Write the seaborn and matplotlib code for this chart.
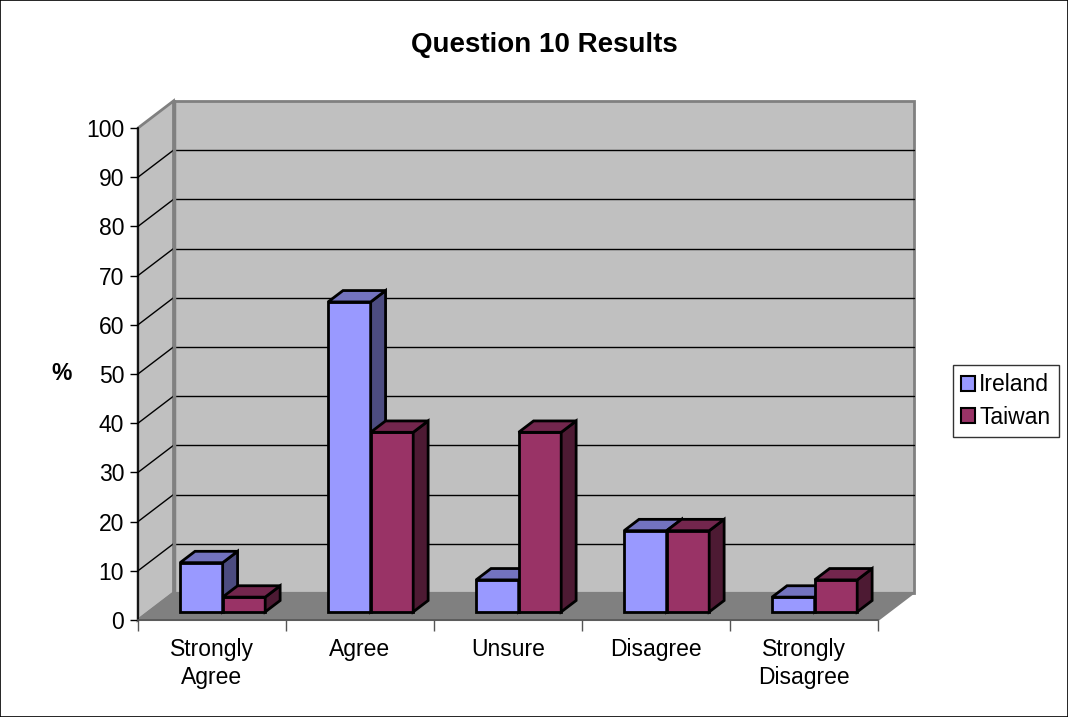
import matplotlib
matplotlib.use("Agg")
import matplotlib.pyplot as plt
from matplotlib.patches import Polygon, Patch, Rectangle
import pandas as pd
import seaborn as sns

# data
answers = ["Strongly\nAgree", "Agree", "Unsure", "Disagree", "Strongly\nDisagree"]
ireland = [10, 63, 6.5, 16.5, 3]
taiwan = [3, 36.5, 36.5, 16.5, 6.5]
yticks = list(range(0, 101, 10))

COLORS = {"Ireland": "#9999FF", "Taiwan": "#993366"}
SIDE = {"Ireland": "#4C4C80", "Taiwan": "#4D1A33"}
TOP = {"Ireland": "#7373BF", "Taiwan": "#73264D"}

df = pd.DataFrame({
    "answer": answers * 2,
    "pct": ireland + taiwan,
    "country": ["Ireland"] * len(answers) + ["Taiwan"] * len(answers),
})

sns.set_style("white")
plt.rcParams["font.family"] = ["Liberation Sans", "DejaVu Sans"]
plt.rcParams["text.color"] = "black"
plt.rcParams["xtick.color"] = "black"
plt.rcParams["ytick.color"] = "black"
plt.rcParams["axes.labelcolor"] = "black"

FS = 16.5
W, H = 1068, 717
fig = plt.figure(figsize=(W / 100, H / 100), dpi=100)
ax = fig.add_axes([138 / W, 97 / H, 740 / W, 492 / H])
ax.set_facecolor("none")

# depth of the fake 3d box, in data units
DX, DY = 0.24, 5.5
X0, X1 = -0.5, len(answers) - 0.5
kw = dict(clip_on=False, zorder=0.5)

# walls and floor
ax.add_patch(Polygon([(X0 + DX, DY), (X1 + DX, DY), (X1 + DX, 100 + DY), (X0 + DX, 100 + DY)],
                     fc="#C0C0C0", ec="#808080", lw=2, **kw))
ax.add_patch(Polygon([(X0, 0), (X0 + DX, DY), (X0 + DX, 100 + DY), (X0, 100)],
                     fc="#C0C0C0", ec="#808080", lw=2, **kw))
ax.add_patch(Polygon([(X0, 0), (X1, 0), (X1 + DX, DY), (X0 + DX, DY)],
                     fc="#808080", ec="#808080", lw=1.5, **kw))
for v in yticks[1:-1]:
    ax.plot([X0 + DX, X1 + DX], [v + DY, v + DY], color="black", lw=1, clip_on=False, zorder=0.6)
    ax.plot([X0, X0 + DX], [v, v + DY], color="black", lw=1, clip_on=False, zorder=0.6)
ax.plot([X0 + DX, X0 + DX], [DY, 100 + DY], color="#808080", lw=2.5, clip_on=False, zorder=0.7)

sns.barplot(data=df, x="answer", y="pct", hue="country", order=answers,
            hue_order=["Ireland", "Taiwan"], palette=COLORS, saturation=1,
            width=0.575, edgecolor="black", linewidth=2, legend=False, ax=ax)

# extrude the bars: front face sits part way into the box
f0, f1 = 0.3, 0.72
ox, oy = DX * f0, DY * f0
dx, dy = DX * (f1 - f0), DY * (f1 - f0)
for i, (name, cont) in enumerate(zip(["Ireland", "Taiwan"], ax.containers)):
    for bar in cont.patches:
        x, w, h = bar.get_x() + ox, bar.get_width(), bar.get_height()
        bar.set_x(x)
        bar.set_y(oy)
        bar.set_zorder(3 + i)
        bar.set_clip_on(False)
        b, t = oy, oy + h
        ax.add_patch(Polygon([(x + w, b), (x + w + dx, b + dy), (x + w + dx, t + dy), (x + w, t)],
                             fc=SIDE[name], ec="black", lw=2, joinstyle="miter",
                             clip_on=False, zorder=3 + i + 0.1))
        ax.add_patch(Polygon([(x, t), (x + w, t), (x + w + dx, t + dy), (x + dx, t + dy)],
                             fc=TOP[name], ec="black", lw=2, joinstyle="miter",
                             clip_on=False, zorder=3 + i + 0.2))

ax.set_xlim(X0, X1)
ax.set_ylim(0, 100)
ax.set_yticks(yticks)
ax.tick_params(axis="y", direction="out", length=6, width=1, color="black",
               labelsize=FS, pad=4, left=True)
ax.set_xticks([k - 0.5 for k in range(len(answers) + 1)])
ax.set_xticklabels([])
ax.set_xticks(range(len(answers)), minor=True)
ax.set_xticklabels(answers, minor=True, fontsize=FS, linespacing=1.3)
ax.tick_params(axis="x", which="major", direction="out", length=8, width=1,
               color="#555555", bottom=True)
ax.tick_params(axis="x", which="minor", length=0, pad=13)
ax.set_xlabel("")
ax.set_ylabel("%", rotation=0, fontsize=FS, fontweight="bold", labelpad=0, va="center")
ax.yaxis.set_label_coords(-76 / 740, 0.5)
for s in ["top", "right"]:
    ax.spines[s].set_visible(False)
ax.spines["left"].set_color("black")
ax.spines["bottom"].set_color("#555555")
for s in ["left", "bottom"]:
    ax.spines[s].set_linewidth(1.2)
    ax.spines[s].set_zorder(1)

fig.text(544 / W, 1 - 45 / H, "Question 10 Results", ha="center", va="center",
         fontsize=20, fontweight="bold")

handles = [Patch(fc=COLORS[n], ec="black", lw=1.5, label=n) for n in ["Ireland", "Taiwan"]]
fig.legend(handles=handles, loc="center left", bbox_to_anchor=(953 / W, 1 - 401 / H),
           frameon=True, fancybox=False, edgecolor="black", fontsize=FS,
           handlelength=0.6, handleheight=0.6, handletextpad=0.2,
           borderpad=0.35, labelspacing=0.4, borderaxespad=0)
fig.patches.append(Rectangle((0, 0), 1, 1, transform=fig.transFigure,
                             fill=False, ec="black", lw=1.2))

fig.savefig("out.png", dpi=100)
